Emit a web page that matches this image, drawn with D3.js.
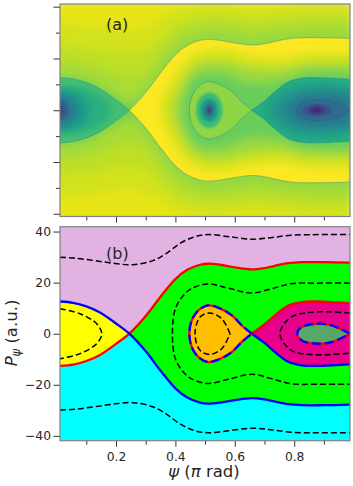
<!DOCTYPE html>
<html>
<head>
<meta charset="utf-8">
<script src="https://cdn.jsdelivr.net/npm/d3@7"></script>
<style>
  body { margin: 0; background: #fff; }
  text { font-family: "DejaVu Sans", sans-serif; fill: #262626; }
</style>
</head>
<body>
<script>
// separatrices
const leftPsi = [0.0114, 0.056, 0.1, 0.146, 0.2, 0.245];
const leftRed = [-12.6, -12.1, -10.7, -8.3, -4, 0];
const leftBlue = [12.6, 12.1, 10.7, 8.3, 4, 0];
const rightPsi = [0.245, 0.303, 0.348, 0.4, 0.44, 0.483, 0.51, 0.55, 0.6, 0.657, 0.7, 0.735, 0.78, 0.825, 0.9, 0.988];
const rightRed = [0, 7.3, 14.2, 21.4, 25, 27, 27.4, 27, 26, 25.2, 25.7, 26.6, 27.6, 28, 28, 27.8];
const rightBlue = [0, -7.3, -14.2, -21.4, -25, -27, -27.4, -27, -26, -25.2, -25.7, -26.6, -27.6, -28, -28, -27.8];
const innerPsi = [0.657, 0.7, 0.735, 0.78, 0.825, 0.88, 0.94, 0.988];
const innerRed = [0, 3.6, 7.2, 11, 12.4, 12.6, 12.3, 12];
const innerBlue = [0, -3.6, -7.2, -11, -12.4, -12.6, -12.3, -12];
const orangePsi = [0.657, 0.623, 0.59, 0.544, 0.51, 0.477, 0.455, 0.447, 0.455, 0.477, 0.51, 0.544, 0.59, 0.623, 0.657];
const orangeP = [0, 3.3, 7.2, 10.2, 11.1, 9.1, 5.2, 0, -5.2, -9.1, -11.1, -10.2, -7.2, -3.3, 0];
const tipPsi = [0.988, 0.926, 0.876, 0.825, 0.81, 0.825, 0.876, 0.926, 0.988];
const tipP = [0, 3.3, 3.9, 2.6, 0, -2.6, -3.9, -3.3, 0];

// dashed orbits
const dashPsi = [0.0114, 0.06, 0.123, 0.19, 0.257, 0.326, 0.37, 0.415, 0.46, 0.51, 0.58, 0.657, 0.72, 0.79, 0.88, 0.988];
const dashTop = [29.9, 29.6, 28.7, 27.6, 27, 28.7, 31.5, 35.3, 37.8, 38.8, 38, 37, 37.6, 38.6, 38.8, 38.8];
const dashBottom = [-29.9, -29.6, -28.7, -27.6, -27, -28.7, -31.5, -35.3, -37.8, -38.8, -38, -37, -37.6, -38.6, -38.8, -38.8];
const midPsi = [0.988, 0.88, 0.79, 0.72, 0.657, 0.58, 0.51, 0.46, 0.432, 0.4, 0.39, 0.4, 0.432, 0.46, 0.51, 0.58, 0.657, 0.72, 0.79, 0.88, 0.988];
const midP = [19.8, 19.8, 19.6, 17.5, 15.9, 17.8, 19.5, 18, 15.7, 9.8, 0, -9.8, -15.7, -18, -19.5, -17.8, -15.9, -17.5, -19.6, -19.8, -19.8];
const yellowDashPsi = [0.0114, 0.079, 0.135, 0.152, 0.135, 0.079, 0.0114];
const yellowDashP = [9.8, 7.8, 3.9, 0, -3.9, -7.8, -9.8];
const orangeDashPsi = [0.584, 0.556, 0.516, 0.483, 0.466, 0.483, 0.516, 0.556, 0.584];
const orangeDashP = [0, 5.9, 8.1, 6.5, 0, -6.5, -8.1, -5.9, 0];
const magDashPsi = [0.988, 0.87, 0.79, 0.752, 0.79, 0.87, 0.988];
const magDashP = [8.1, 8.5, 6.5, 0, -6.5, -8.2, -7.6];

// panel (a): level bands outside the outer separatrix, outermost first
const bandPsi = [0, 0.1, 0.2, 0.25, 0.3, 0.35, 0.4, 0.5, 0.6, 0.66, 0.75, 0.85, 1];
const bandLevels = [0.93, 0.9, 0.87, 0.84, 0.78];
const bandTops = [
  [33, 32.5, 31, 30.5, 32, 35, 38.5, 41, 40.5, 39.5, 40.5, 41, 41],
  [25, 24, 22, 21.5, 23, 28, 33, 36.5, 36, 35, 36, 37, 37],
  [19, 18, 14, 12.5, 15, 22, 28.5, 33, 32.5, 31.5, 32.5, 33.5, 33.5],
  [15, 13, 7, 5, 9.5, 18, 24.5, 30, 29, 28, 29.5, 30.5, 30.5],
  [13, 11, 5, 2, 6, 10, 14, 18, 18, 18, 18, 18, 18]
];
const bandBottoms = [
  [-33, -32.5, -31, -30.5, -32, -35, -38.5, -41, -40.5, -39.5, -40.5, -41, -41],
  [-25, -24, -22, -21.5, -23, -28, -33, -36.5, -36, -35, -36, -37, -37],
  [-19, -18, -14, -12.5, -15, -22, -28.5, -33, -32.5, -31.5, -32.5, -33.5, -33.5],
  [-15, -13, -7, -5, -9.5, -18, -24.5, -30, -29, -28, -29.5, -30.5, -30.5],
  [-13, -11, -5, -2, -6, -10, -14, -18, -18, -18, -18, -18, -18]
];
// panel (a): level curves inside the outer separatrix
const greenLevels = [0.93, 0.85, 0.77];
const greenPsi = [
  [1.02, 0.85, 0.75, 0.657, 0.55, 0.47, 0.4, 0.35, 0.4, 0.47, 0.55, 0.657, 0.75, 0.85, 1.02],
  [1.02, 0.85, 0.75, 0.657, 0.55, 0.47, 0.42, 0.39, 0.42, 0.47, 0.55, 0.657, 0.75, 0.85, 1.02],
  [1.02, 0.85, 0.75, 0.657, 0.55, 0.47, 0.435, 0.42, 0.435, 0.47, 0.55, 0.657, 0.75, 0.85, 1.02]
];
const greenP = [
  [22, 22, 20, 21, 23.5, 22, 14, 0, -14, -22, -23.5, -21, -20, -22, -22],
  [18, 18, 16, 16.5, 19, 17.5, 10, 0, -10, -17.5, -19, -16.5, -16, -18, -18],
  [14.5, 15, 11.5, 10.5, 14.5, 13.5, 7, 0, -7, -13.5, -14.5, -10.5, -11.5, -15, -14.5]
];
// panel (a): elliptic wells around the three O-points
const wellLevels = [0.68, 0.55, 0.4, 0.25, 0.12];
const wellRx = [0.045, 0.03, 0.018, 0.009, 0.004];
const wellRy = [7, 4.5, 3, 1.5, 0.8];
const leftLevels = [0.63, 0.54, 0.42, 0.3, 0.2];
const leftRx = [0.17, 0.1, 0.06, 0.03, 0.012];
const leftRy = [9.5, 8, 6, 4, 2];
const rightLevels = [0.58, 0.5, 0.42, 0.35, 0.25, 0.15, 0.08];
const rightCx = [0.88, 0.9, 0.9, 0.89, 0.876, 0.876, 0.876];
const rightRx = [0.18, 0.17, 0.13, 0.09, 0.05, 0.025, 0.01];
const rightRy = [11, 9, 6.5, 4, 2.5, 1.5, 0.7];

const xTicks = [0.1, 0.2, 0.3, 0.4, 0.5, 0.6, 0.7, 0.8, 0.9];
const yMajor = [-40, -20, 0, 20, 40];
const yMinor = [-30, -10, 10, 30];

const width = 353, height = 486;
const x = d3.scaleLinear().domain([0.0114, 0.988]).range([60, 350]);
const yA = d3.scaleLinear().domain([-41.05, 41.05]).range([216.5, 4]);
const yB = d3.scaleLinear().domain([-41.9, 41.9]).range([440.7, 226.7]);
const color = d3.scaleSequential(d3.interpolateViridis).domain([0, 1]);

const svg = d3.select("body").append("svg")
  .attr("width", width)
  .attr("height", height)
  .attr("viewBox", [0, 0, width, height])
  .style("display", "block");

const zip = (a, b) => a.map((v, i) => [v, b[i]]);
const defs = svg.append("defs");
[["blur4", 4], ["blur3", 3], ["blur1", 0.9]].forEach(([id, s]) => {
  defs.append("filter").attr("id", id)
    .attr("filterUnits", "userSpaceOnUse")
    .attr("x", 0).attr("y", 0).attr("width", width).attr("height", height)
    .append("feGaussianBlur").attr("stdDeviation", s);
});

// path builders for one y scale
function shapes(y) {
  const line = d3.line().x(d => x(d[0])).y(d => y(d[1])).curve(d3.curveCatmullRom);
  const between = (xs, top, bot) => d3.area().x((d, i) => x(xs[i]))
    .y0((d, i) => y(top[i])).y1((d, i) => y(bot[i])).curve(d3.curveCatmullRom)(xs);
  return {
    line, between,
    red: line(zip(leftPsi.concat(rightPsi.slice(1)), leftRed.concat(rightRed.slice(1)))),
    blue: line(zip(leftPsi.concat(rightPsi.slice(1)), leftBlue.concat(rightBlue.slice(1)))),
    yellow: between(leftPsi, leftBlue, leftRed),
    lime: between(rightPsi, rightRed, rightBlue),
    magenta: between(innerPsi, innerRed, innerBlue),
    orange: line(zip(orangePsi, orangeP)),
    tip: line(zip(tipPsi, tipP))
  };
}

function clipTo(id, d) { defs.append("clipPath").attr("id", id).append("path").attr("d", d); }

function frame(name, y) {
  defs.append("clipPath").attr("id", "frame" + name).append("rect")
    .attr("x", x.range()[0]).attr("y", y.range()[1])
    .attr("width", x.range()[1] - x.range()[0]).attr("height", y.range()[0] - y.range()[1]);
}
frame("A", yA);
frame("B", yB);

const fillRect = (g, c) => g.append("rect").attr("x", 0).attr("y", 0)
  .attr("width", width).attr("height", 240).attr("fill", c);

// ---------- panel (a)
const sa = shapes(yA);
clipTo("cYellow", sa.yellow);
clipTo("cLime", sa.lime);
clipTo("cMag", sa.magenta);
clipTo("cOrange", sa.orange);

const a = svg.append("g").attr("clip-path", "url(#frameA)");
const wide = d => d > 0.3 ? "url(#blur3)" : "url(#blur1)";

// outside the separatrix
const gOut = a.append("g").attr("filter", "url(#blur4)");
fillRect(gOut, color(0.96));
gOut.selectAll("path").data(bandLevels).join("path")
  .attr("fill", d => color(d))
  .attr("d", (d, i) => sa.between(bandPsi, bandTops[i], bandBottoms[i]));

// between the separatrices
const gLime = a.append("g").attr("clip-path", "url(#cLime)").append("g").attr("filter", "url(#blur4)");
fillRect(gLime, color(0.995));
gLime.selectAll("path").data(greenLevels).join("path")
  .attr("fill", d => color(d))
  .attr("d", (d, i) => sa.line(zip(greenPsi[i], greenP[i])));

// left island, open towards the left edge
const gLeft = a.append("g").attr("clip-path", "url(#cYellow)");
fillRect(gLeft, color(0.7));
gLeft.selectAll("ellipse").data(leftLevels).join("ellipse")
  .attr("cx", x(0.0114)).attr("cy", yA(0))
  .attr("rx", (d, i) => x(leftRx[i]) - x(0)).attr("ry", (d, i) => yA(0) - yA(leftRy[i]))
  .attr("fill", d => color(d)).attr("filter", wide);

// island around psi = 0.51
const gOrange = a.append("g").attr("clip-path", "url(#cOrange)").append("g").attr("filter", "url(#blur1)");
fillRect(gOrange, color(0.83));
gOrange.selectAll("ellipse").data(wellLevels).join("ellipse")
  .attr("cx", x(0.514)).attr("cy", yA(0))
  .attr("rx", (d, i) => x(wellRx[i]) - x(0)).attr("ry", (d, i) => yA(0) - yA(wellRy[i]))
  .attr("fill", d => color(d));

// right island
const gRight = a.append("g").attr("clip-path", "url(#cMag)");
fillRect(gRight, color(0.62));
gRight.selectAll("ellipse").data(rightLevels).join("ellipse")
  .attr("cx", (d, i) => x(rightCx[i])).attr("cy", yA(0))
  .attr("rx", (d, i) => x(rightRx[i]) - x(0)).attr("ry", (d, i) => yA(0) - yA(rightRy[i]))
  .attr("fill", d => color(d)).attr("filter", wide);

// thin dark separatrix traces
const traces = a.append("g").attr("fill", "none").attr("stroke", color(0.45)).attr("stroke-width", 0.8).attr("stroke-opacity", 0.55);
[sa.red, sa.blue, sa.line(zip(innerPsi, innerRed)), sa.line(zip(innerPsi, innerBlue)), sa.orange]
  .forEach(d => traces.append("path").attr("d", d));
traces.append("path").attr("d", sa.tip).attr("stroke", color(0.2));

// ---------- panel (b)
const sb = shapes(yB);
const b = svg.append("g").attr("clip-path", "url(#frameB)");
b.append("rect").attr("x", 60).attr("y", 226.7).attr("width", 290).attr("height", 214).attr("fill", "#e2b2e2");

const below = (xs, ps) => d3.area().x((d, i) => x(xs[i]))
  .y0(() => yB.range()[0]).y1((d, i) => yB(ps[i])).curve(d3.curveCatmullRom)(xs);
b.append("path").attr("d", below(leftPsi, leftRed)).attr("fill", "#00ffff");
b.append("path").attr("d", below(rightPsi, rightBlue)).attr("fill", "#00ffff");
b.append("path").attr("d", sb.yellow).attr("fill", "#ffff00");
b.append("path").attr("d", sb.lime).attr("fill", "#00ff00");
b.append("path").attr("d", sb.magenta).attr("fill", "#e6008a");
b.append("path").attr("d", sb.orange).attr("fill", "#ffbf00");
b.append("path").attr("d", sb.tip).attr("fill", "#55a868");

const lines = b.append("g").attr("fill", "none").attr("stroke-width", 2.3);
lines.append("path").attr("d", sb.red).attr("stroke", "#ff0000");
lines.append("path").attr("d", sb.line(zip(innerPsi, innerRed))).attr("stroke", "#ff0000");
lines.append("path").attr("d", sb.blue).attr("stroke", "#0000ff");
lines.append("path").attr("d", sb.line(zip(innerPsi, innerBlue))).attr("stroke", "#0000ff");
[sb.orange, sb.tip].forEach(d => {
  lines.append("path").attr("d", d).attr("stroke", "#ff0000");
  lines.append("path").attr("d", d).attr("stroke", "#0000ff").attr("stroke-dasharray", "9,4");
});

const dashes = b.append("g").attr("fill", "none").attr("stroke", "#000").attr("stroke-width", 1.5).attr("stroke-dasharray", "6,3");
dashes.append("path").attr("d", sb.line(zip(dashPsi, dashTop)));
dashes.append("path").attr("d", sb.line(zip(dashPsi, dashBottom)));
dashes.append("path").attr("d", sb.line(zip(midPsi, midP)));
dashes.append("path").attr("d", sb.line(zip(yellowDashPsi, yellowDashP)));
dashes.append("path").attr("d", sb.line(zip(orangeDashPsi, orangeDashP)));
dashes.append("path").attr("d", sb.line(zip(magDashPsi, magDashP)));

// ---------- frames and axes
function decorate(y, labelled) {
  const bottom = y.range()[0];
  const gx = svg.append("g").attr("transform", `translate(0,${bottom})`)
    .call(d3.axisBottom(x).tickValues(xTicks).tickSizeOuter(0)
      .tickFormat(d => labelled && Math.round(d * 10) % 2 === 0 ? d3.format(".1f")(d) : ""));
  gx.selectAll("line").attr("y2", d => Math.round(d * 10) % 2 === 0 ? 6 : 4);
  gx.select(".domain").remove();

  const gy = svg.append("g").attr("transform", "translate(60,0)")
    .call(d3.axisLeft(y).tickValues(labelled ? yMajor : yMajor.concat(yMinor)).tickSizeOuter(0)
      .tickFormat(d => labelled ? d3.format("d")(d).replace("-", "\u2212") : ""));
  gy.selectAll("line").attr("x2", d => yMajor.includes(d) ? -6.5 : -4);
  gy.select(".domain").remove();

  svg.selectAll(".tick line").attr("stroke", "#333").attr("stroke-width", 1);
  gx.selectAll("text").attr("font-size", 12.3).attr("dy", "0.9em").attr("fill", null);
  gy.selectAll("text").attr("font-size", 12.3).attr("fill", null);

  svg.append("rect").attr("x", 60).attr("y", y.range()[1])
    .attr("width", 290).attr("height", bottom - y.range()[1])
    .attr("fill", "none").attr("stroke", "#808080").attr("stroke-width", 1.2);
}
decorate(yA, false);
decorate(yB, true);

// ---------- text
svg.append("text").attr("x", 106).attr("y", 29.5).attr("font-size", 16).text("(a)");
svg.append("text").attr("x", 106).attr("y", 259).attr("font-size", 16).text("(b)");

const xl = svg.append("text").attr("x", 204).attr("y", 477).attr("font-size", 16.5).attr("text-anchor", "middle");
xl.append("tspan").attr("font-style", "italic").text("\u03c8");
xl.append("tspan").text(" (");
xl.append("tspan").attr("font-style", "italic").text("\u03c0");
xl.append("tspan").text(" rad)");

const yl = svg.append("text").attr("transform", "translate(17,333) rotate(-90)").attr("font-size", 16.5).attr("text-anchor", "middle");
yl.append("tspan").attr("font-style", "italic").text("P");
yl.append("tspan").attr("font-style", "italic").attr("font-size", 11.5).attr("dy", 3).text("\u03c8");
yl.append("tspan").attr("dy", -3).text(" (a.u.)");
</script>
</body>
</html>
